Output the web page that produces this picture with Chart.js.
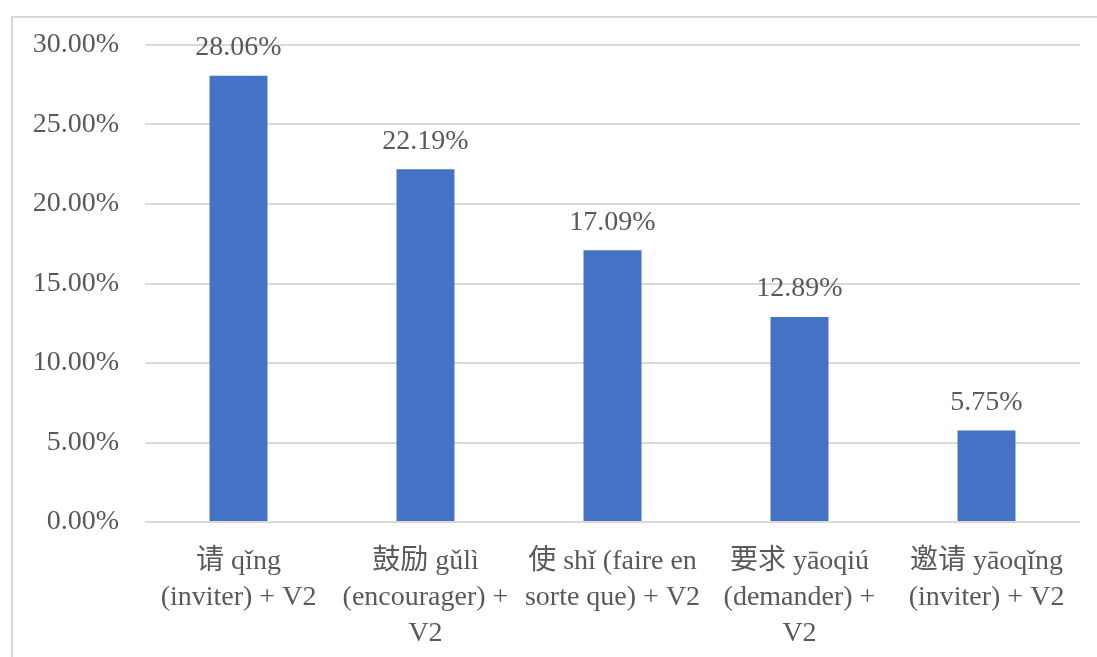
<!DOCTYPE html>
<html>
<head>
<meta charset="utf-8">
<script src="https://cdn.jsdelivr.net/npm/chart.js@4/dist/chart.umd.min.js"></script>
<style>
  html, body { margin: 0; padding: 0; background: #fff; overflow: hidden; }
  #frame {
    position: absolute; left: 11px; top: 16px; width: 1200px; height: 800px;
    border: 2px solid #d9d9d9; box-sizing: border-box;
  }
  #wrap { position: absolute; left: 0; top: 0; width: 1097px; height: 657px; }
</style>
</head>
<body>
<div id="frame"></div>
<div id="wrap"><canvas id="chart" width="1097" height="657"></canvas></div>
<script>
// ── Data ─────────────────────────────────────────────
const categories = [
  ["请 qǐng", "(inviter) + V2"],
  ["鼓励 gǔlì", "(encourager) +", "V2"],
  ["使 shǐ (faire en", "sorte que) + V2"],
  ["要求 yāoqiú", "(demander) +", "V2"],
  ["邀请 yāoqǐng", "(inviter) + V2"],
];
const shares = [28.06, 22.19, 17.09, 12.89, 5.75];
const yTicks = [0, 5, 10, 15, 20, 25, 30];

const FONT = "'Liberation Serif', 'Noto Sans CJK SC', serif";
const TEXT = "#595959";
const GRID = "#d9d9d9";

// value labels above each bar
const barLabels = {
  id: "barLabels",
  afterDatasetsDraw(chart) {
    const { ctx } = chart;
    const meta = chart.getDatasetMeta(0);
    ctx.save();
    ctx.font = "28px " + FONT;
    ctx.fillStyle = TEXT;
    ctx.textAlign = "center";
    ctx.textBaseline = "middle";
    meta.data.forEach((bar, i) => {
      ctx.fillText(shares[i].toFixed(2) + "%", bar.x, bar.y - 28);
    });
    ctx.restore();
  },
};

new Chart(document.getElementById("chart"), {
  type: "bar",
  data: {
    labels: categories,
    datasets: [{
      data: shares,
      backgroundColor: "#4472c4",
      borderWidth: 0,
      categoryPercentage: 1,
      barPercentage: 0.31,
    }],
  },
  options: {
    responsive: false,
    animation: false,
    layout: { padding: { top: 45, right: 17, left: 0, bottom: 0 } },
    plugins: { legend: { display: false }, tooltip: { enabled: false } },
    scales: {
      x: {
        grid: { display: false },
        border: { display: false },
        ticks: {
          color: TEXT,
          font: { family: FONT, size: 28, lineHeight: 1.3 },
          padding: 13,
          maxRotation: 0,
          autoSkip: false,
        },
        afterFit: (s) => { s.height = 135; },
      },
      y: {
        min: 0,
        max: 30,
        afterBuildTicks: (s) => { s.ticks = yTicks.map((v) => ({ value: v })); },
        grid: { color: GRID, lineWidth: 2, drawTicks: false },
        border: { display: false },
        ticks: {
          color: TEXT,
          font: { family: FONT, size: 28 },
          padding: 26,
          callback: (v) => v.toFixed(2) + "%",
        },
        afterFit: (s) => { s.width = 145; },
      },
    },
  },
  plugins: [barLabels],
});
</script>
</body>
</html>
